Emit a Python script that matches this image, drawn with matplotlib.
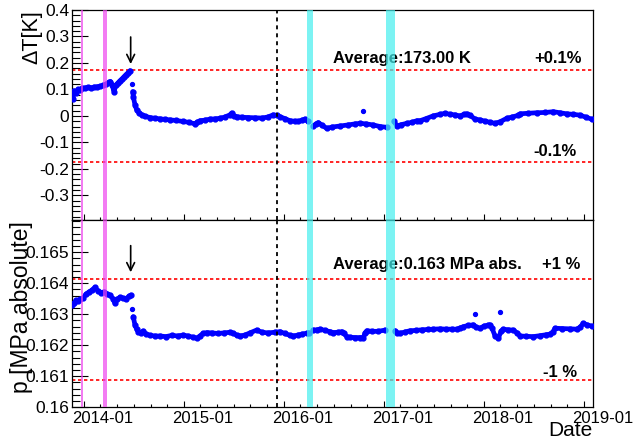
import numpy as np
import pandas as pd
import matplotlib
matplotlib.use("Agg")
import matplotlib.pyplot as plt
import matplotlib.dates as mdates
from matplotlib.ticker import FixedLocator, MultipleLocator
from matplotlib.transforms import ScaledTranslation

plt.rcParams['font.family'] = ['Liberation Sans', 'DejaVu Sans']

# ---------------- data (time in decimal years) ----------------
# Temperature deviation dT [K]
dT_a_t = [2013.88, 2013.89, 2013.90, 2013.92, 2013.94, 2013.96, 2013.98, 2014.01, 2014.04, 2014.07,
          2014.10, 2014.13, 2014.16, 2014.19, 2014.22, 2014.25, 2014.265, 2014.28, 2014.30, 2014.32,
          2014.34, 2014.36, 2014.38, 2014.40, 2014.42, 2014.44, 2014.46]
dT_a_v = [0.085, 0.065, 0.095, 0.088, 0.100, 0.098, 0.104, 0.106, 0.108, 0.106,
          0.109, 0.110, 0.112, 0.115, 0.120, 0.127, 0.130, 0.118, 0.092, 0.117,
          0.125, 0.133, 0.140, 0.148, 0.156, 0.163, 0.171]
dT_b_t = [2014.487, 2014.493, 2014.51, 2014.527, 2014.55, 2014.577, 2014.61, 2014.66, 2014.71, 2014.76,
          2014.81, 2014.86, 2014.92, 2014.99, 2015.05, 2015.11, 2015.13, 2015.16, 2015.21, 2015.26,
          2015.31, 2015.36, 2015.41, 2015.46, 2015.477, 2015.50, 2015.53, 2015.58, 2015.64, 2015.71,
          2015.78, 2015.84, 2015.893, 2015.93, 2015.96, 2016.01, 2016.06, 2016.11, 2016.143, 2016.18,
          2016.21, 2016.24]
dT_b_v = [0.092, 0.073, 0.042, 0.023, 0.012, 0.004, -0.001, -0.006, -0.009, -0.011,
          -0.013, -0.015, -0.017, -0.021, -0.024, -0.030, -0.024, -0.018, -0.016, -0.012,
          -0.011, -0.009, -0.004, 0.004, 0.011, 0.000, -0.003, -0.005, -0.006, -0.007,
          -0.008, -0.004, 0.004, 0.002, -0.003, -0.010, -0.018, -0.020, -0.021, -0.016,
          -0.012, -0.021]
dT_c_t = [2016.293, 2016.32, 2016.343, 2016.38, 2016.427, 2016.48, 2016.56, 2016.64, 2016.71, 2016.76,
          2016.82, 2016.89, 2016.96, 2017.027]
dT_c_v = [-0.038, -0.030, -0.025, -0.035, -0.047, -0.042, -0.038, -0.034, -0.030, -0.028,
          -0.030, -0.034, -0.040, -0.043]
dT_d_t = [2017.10, 2017.127, 2017.17, 2017.227, 2017.28, 2017.327, 2017.36, 2017.42, 2017.49, 2017.56,
          2017.61, 2017.66, 2017.71, 2017.76, 2017.80, 2017.827, 2017.86, 2017.91, 2017.96, 2018.01,
          2018.06, 2018.11, 2018.16, 2018.227, 2018.28, 2018.34, 2018.36, 2018.44, 2018.527, 2018.61,
          2018.693, 2018.76, 2018.827, 2018.89, 2018.96, 2019.02, 2019.077]
dT_d_v = [-0.021, -0.038, -0.033, -0.028, -0.024, -0.018, -0.018, -0.010, 0.000, 0.006,
          0.010, 0.006, 0.004, 0.000, 0.006, 0.008, 0.002, -0.012, -0.015, -0.020,
          -0.024, -0.028, -0.022, -0.009, -0.004, 0.002, 0.008, 0.010, 0.012, 0.013,
          0.016, 0.012, 0.008, 0.006, 0.003, -0.005, -0.012]
dT_single_t = [2014.48, 2016.793]
dT_single_v = [0.120, 0.020]

# Pressure p [MPa absolute]
p_a_t = [2013.88, 2013.90, 2013.92, 2013.94, 2013.96, 2013.99, 2014.02, 2014.05, 2014.08, 2014.11,
         2014.14, 2014.17, 2014.20, 2014.23, 2014.26, 2014.29, 2014.31, 2014.33, 2014.36, 2014.39,
         2014.42, 2014.45, 2014.47]
p_a_v = [0.16330, 0.16335, 0.16345, 0.16342, 0.16348, 0.16352, 0.16365, 0.16372, 0.16378, 0.16387,
         0.16375, 0.16370, 0.16372, 0.16366, 0.16362, 0.16350, 0.16335, 0.16348, 0.16355, 0.16352,
         0.16350, 0.16358, 0.16362]
p_b_t = [2014.493, 2014.51, 2014.527, 2014.543, 2014.57, 2014.593, 2014.62, 2014.66, 2014.71, 2014.76,
         2014.82, 2014.88, 2014.94, 2014.99, 2015.04, 2015.09, 2015.127, 2015.16, 2015.19, 2015.227,
         2015.28, 2015.34, 2015.40, 2015.46, 2015.493, 2015.53, 2015.56, 2015.61, 2015.66, 2015.727,
         2015.78, 2015.84, 2015.91, 2015.96, 2016.01, 2016.06, 2016.093, 2016.14, 2016.18, 2016.227,
         2016.25]
p_b_v = [0.16292, 0.16265, 0.16252, 0.16244, 0.16240, 0.16246, 0.16236, 0.16232, 0.16230, 0.16230,
         0.16228, 0.16232, 0.16230, 0.16233, 0.16230, 0.16226, 0.16223, 0.16230, 0.16238, 0.16241,
         0.16240, 0.16238, 0.16240, 0.16242, 0.16239, 0.16232, 0.16230, 0.16233, 0.16240, 0.16249,
         0.16242, 0.16240, 0.16242, 0.16244, 0.16238, 0.16232, 0.16230, 0.16233, 0.16236, 0.16239,
         0.16240]
p_c_t = [2016.293, 2016.33, 2016.36, 2016.41, 2016.46, 2016.493, 2016.54, 2016.577, 2016.60, 2016.627,
         2016.66, 2016.71, 2016.76, 2016.793, 2016.81, 2016.827, 2016.88, 2016.94, 2017.01]
p_c_v = [0.16249, 0.16250, 0.16252, 0.16248, 0.16244, 0.16241, 0.16242, 0.16244, 0.16238, 0.16228,
         0.16226, 0.16225, 0.16225, 0.16225, 0.16240, 0.16247, 0.16245, 0.16245, 0.16249]
p_d_t = [2017.11, 2017.13, 2017.16, 2017.21, 2017.26, 2017.32, 2017.38, 2017.44, 2017.493, 2017.56,
         2017.62, 2017.68, 2017.727, 2017.76, 2017.793, 2017.84, 2017.893, 2017.92, 2017.96, 2018.00,
         2018.04, 2018.06, 2018.08, 2018.11, 2018.143, 2018.17, 2018.193, 2018.24, 2018.293, 2018.33,
         2018.36, 2018.42, 2018.493, 2018.56, 2018.62, 2018.66, 2018.69, 2018.71, 2018.78, 2018.86,
         2018.927, 2018.96, 2018.993, 2019.03, 2019.077]
p_d_v = [0.16247, 0.16240, 0.16239, 0.16243, 0.16247, 0.16248, 0.16250, 0.16251, 0.16252, 0.16253,
         0.16252, 0.16252, 0.16252, 0.16256, 0.16260, 0.16264, 0.16266, 0.16258, 0.16255, 0.16262,
         0.16265, 0.16266, 0.16255, 0.16230, 0.16223, 0.16245, 0.16252, 0.16250, 0.16249, 0.16240,
         0.16230, 0.16229, 0.16228, 0.16231, 0.16234, 0.16236, 0.16244, 0.16255, 0.16254, 0.16253,
         0.16252, 0.16258, 0.16271, 0.16266, 0.16262]
p_single_t = [2014.477, 2017.91, 2018.16]
p_single_v = [0.16317, 0.16300, 0.16306]

# reference values
T_avg = 173.00          # K
T_band = 0.001 * T_avg  # +-0.1 %
p_avg = 0.16252         # MPa
p_band = 0.01           # +-1 %

# periods / events (decimal years)
magenta_periods = [(2013.967, 2013.993), (2014.19, 2014.227)]
cyan_periods = [(2016.233, 2016.287), (2017.02, 2017.11)]
dotted_event = 2015.927
arrow_event = 2014.467
x_range = (2013.88, 2019.085)

year_ticks = [2014, 2015, 2016, 2017, 2018, 2019]
year_labels = ['2014-01', '2015-01', '2016-01', '2017-01', '2018-01', '2019-01']
dT_ticks = [0.4, 0.3, 0.2, 0.1, 0.0, -0.1, -0.2, -0.3]
dT_labels = ['0.4', '0.3', '0.2', '0.1', '0', '-0.1', '-0.2', '-0.3']
p_ticks = [0.160, 0.161, 0.162, 0.163, 0.164, 0.165]
p_labels = ['0.16', '0.161', '0.162', '0.163', '0.164', '0.165']


def yr2dt(arr):
    out = []
    for y in arr:
        yi = int(np.floor(y))
        s = pd.Timestamp(year=yi, month=1, day=1)
        e = pd.Timestamp(year=yi + 1, month=1, day=1)
        out.append(s + (e - s) * (y - yi))
    return pd.to_datetime(out)


W, H = 635, 441
fig = plt.figure(figsize=(W / 100, H / 100), dpi=100)
L, R = 72 / W, 592.5 / W
ax1 = fig.add_axes([L, 1 - 220 / H, R - L, 210 / H])
ax2 = fig.add_axes([L, 1 - 407.3 / H, R - L, 187.3 / H])

blue = '#0000ff'
lw_data = 3.4

# --- top panel
for t, v in [(dT_a_t, dT_a_v), (dT_b_t, dT_b_v), (dT_c_t, dT_c_v), (dT_d_t, dT_d_v)]:
    ax1.plot(yr2dt(t), v, color=blue, lw=lw_data, marker='o', ms=3.5, solid_capstyle='round', zorder=3)
ax1.plot(yr2dt(dT_single_t), dT_single_v, 'o', color=blue, ms=2.8, zorder=3)

# --- bottom panel
for t, v in [(p_a_t, p_a_v), (p_b_t, p_b_v), (p_c_t, p_c_v), (p_d_t, p_d_v)]:
    ax2.plot(yr2dt(t), v, color=blue, lw=lw_data, marker='o', ms=3.5, solid_capstyle='round', zorder=3)
ax2.plot(yr2dt(p_single_t), p_single_v, 'o', color=blue, ms=2.8, zorder=3)

for ax in (ax1, ax2):
    for a, b in magenta_periods:
        d = yr2dt([a, b])
        ax.axvspan(d[0], d[1], color='#ee44ee', alpha=0.7, lw=0, zorder=4)
    for a, b in cyan_periods:
        d = yr2dt([a, b])
        ax.axvspan(d[0], d[1], color='#44eeee', alpha=0.7, lw=0, zorder=4)
    ax.axvline(yr2dt([dotted_event])[0], color='black', lw=1.3, ls=(0, (2.2, 2.2)), zorder=5)

# reference lines
ax1.axhline(T_band, color='#ff0000', lw=1.2, ls=(0, (2, 1.6)), zorder=2)
ax1.axhline(-T_band, color='#ff0000', lw=1.2, ls=(0, (2, 1.6)), zorder=2)
ax2.axhline(p_avg * (1 + p_band), color='#ff0000', lw=1.2, ls=(0, (2, 1.6)), zorder=2)
ax2.axhline(p_avg * (1 - p_band), color='#ff0000', lw=1.2, ls=(0, (2, 1.6)), zorder=2)

# arrows
ax_arrow_x = yr2dt([arrow_event])[0]
ax1.annotate('', xy=(ax_arrow_x, 0.196), xytext=(ax_arrow_x, 0.298),
             arrowprops=dict(arrowstyle='->', color='black', lw=1.2,
                             mutation_scale=14, shrinkA=0, shrinkB=0), zorder=6)
ax2.annotate('', xy=(ax_arrow_x, 0.164355), xytext=(ax_arrow_x, 0.165213),
             arrowprops=dict(arrowstyle='->', color='black', lw=1.2,
                             mutation_scale=14, shrinkA=0, shrinkB=0), zorder=6)

# text
tfs = 12
ax1.text(0.5014, 0.771, 'Average:%.2f K' % T_avg, transform=ax1.transAxes, fontsize=tfs,
         fontweight='bold', ha='left', va='center')
ax1.text(0.979, 0.771, '+0.1%', transform=ax1.transAxes, fontsize=tfs, fontweight='bold',
         ha='right', va='center')
ax1.text(0.970, 0.324, '-0.1%', transform=ax1.transAxes, fontsize=tfs, fontweight='bold',
         ha='right', va='center')
ax2.text(0.5014, 0.760, 'Average:%.3f MPa abs.' % p_avg, transform=ax2.transAxes, fontsize=tfs,
         fontweight='bold', ha='left', va='center')
ax2.text(0.977, 0.760, '+1 %', transform=ax2.transAxes, fontsize=tfs, fontweight='bold',
         ha='right', va='center')
ax2.text(0.970, 0.185, '-1 %', transform=ax2.transAxes, fontsize=tfs, fontweight='bold',
         ha='right', va='center')

# axes formatting
xr = yr2dt(list(x_range))
for ax in (ax1, ax2):
    ax.set_xlim(xr[0], xr[1])
    ax.xaxis.set_major_locator(FixedLocator(mdates.date2num(yr2dt(year_ticks))))
    ax.xaxis.set_minor_locator(mdates.MonthLocator(bymonth=[1, 3, 5, 7, 9, 11]))
    ax.tick_params(axis='x', which='major', direction='in', length=4.5, width=0.8,
                   top=False, labelsize=12, pad=2.5)
    ax.tick_params(axis='x', which='minor', direction='in', length=2.3, width=0.8, top=False)
    ax.tick_params(axis='y', which='major', direction='in', length=11.5, width=0.8,
                   right=False, labelsize=12.5, pad=2)
    ax.tick_params(axis='y', which='minor', direction='in', length=5.5, width=0.8, right=False)
    for s in ax.spines.values():
        s.set_linewidth(0.9)

ax1.set_ylim(-0.393, 0.4)
ax1.set_yticks(dT_ticks)
ax1.set_yticklabels(dT_labels)
ax1.yaxis.set_minor_locator(MultipleLocator(0.02))
ax1.set_xticklabels([])

ax2.set_ylim(0.160, 0.16604)
ax2.set_yticks(p_ticks)
ax2.set_yticklabels(p_labels)
ax2.yaxis.set_minor_locator(MultipleLocator(0.0002))
ax2.set_xticklabels(year_labels)
off = ScaledTranslation(19 / 100, 0, fig.dpi_scale_trans)
for lab in ax2.get_xticklabels():
    lab.set_transform(lab.get_transform() + off)

# axis titles
fig.text(32 / W, 1 - 10 / H, 'ΔT[K]', rotation=90, ha='center', va='top', fontsize=15.5)
fig.text(22 / W, 1 - 221 / H, 'p [MPa absolute]', rotation=90, ha='center', va='top', fontsize=16.5)
fig.text(592.5 / W, 1 - 436 / H, 'Date', ha='right', va='baseline', fontsize=15)

fig.savefig('out.png', dpi=100)
